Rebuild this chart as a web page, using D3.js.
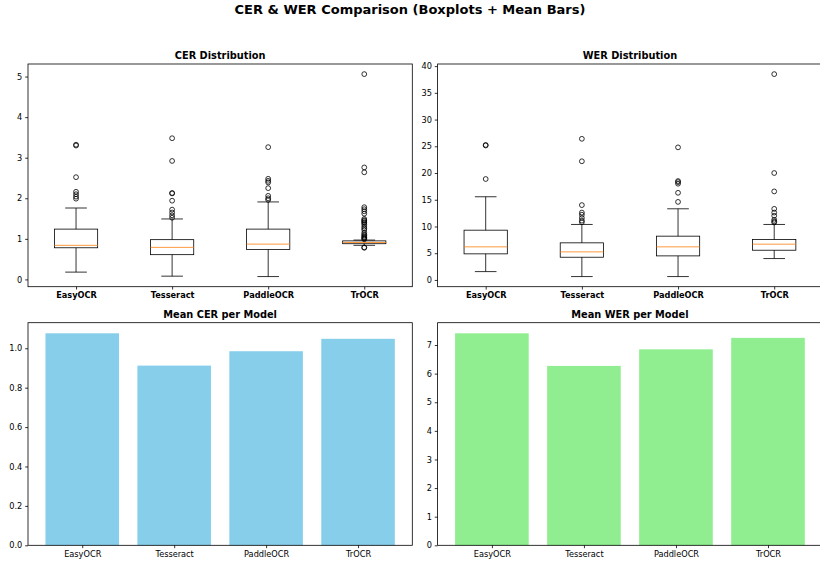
<!DOCTYPE html>
<html>
<head>
<meta charset="utf-8">
<script src="https://cdn.jsdelivr.net/npm/d3@7"></script>
<style>
  body { margin: 0; background: #fff; }
  svg { display: block; font-family: "DejaVu Sans", sans-serif; }
</style>
</head>
<body>
<div id="chart"></div>
<script>
const models = ["EasyOCR", "Tesseract", "PaddleOCR", "TrOCR"];

// CER boxplot summaries
const cerQ1 = [0.78, 0.61, 0.74, 0.88];
const cerMedian = [0.84, 0.79, 0.87, 0.91];
const cerQ3 = [1.24, 0.98, 1.24, 0.95];
const cerWhiskerLow = [0.18, 0.08, 0.07, 0.84];
const cerWhiskerHigh = [1.76, 1.49, 1.91, 0.97];
const cerOutliers = [
  [3.32, 3.30, 2.52, 2.16, 2.10, 2.04, 1.99],
  [3.48, 2.92, 2.13, 2.12, 1.94, 1.72, 1.65, 1.58, 1.52],
  [3.26, 2.48, 2.43, 2.39, 2.25, 2.06, 2.00, 1.96],
  [5.06, 2.76, 2.64, 1.78, 1.73, 1.68, 1.62, 1.49, 1.46, 1.44, 1.41, 1.39,
   1.35, 1.30, 1.26, 1.22, 1.15, 1.11, 1.08, 1.05, 1.03, 1.01, 0.99, 0.79, 0.78]
];

// WER boxplot summaries
const werQ1 = [4.88, 4.25, 4.50, 5.56];
const werMedian = [6.19, 5.25, 6.19, 6.69];
const werQ3 = [9.31, 6.94, 8.19, 7.56];
const werWhiskerLow = [1.56, 0.63, 0.63, 4.00];
const werWhiskerHigh = [15.56, 10.38, 13.31, 10.38];
const werOutliers = [
  [25.25, 25.15, 18.88],
  [26.4, 22.2, 14.0, 12.6, 12.2, 11.6, 11.1, 10.8],
  [24.8, 18.5, 18.3, 18.0, 16.3, 14.6],
  [38.5, 20.0, 16.56, 13.3, 12.6, 12.0, 11.25, 10.94, 10.75]
];

// Mean bars
const meanCer = [1.076, 0.912, 0.985, 1.048];
const meanWer = [7.41, 6.27, 6.85, 7.25];

const cerBoxTicks = [0, 1, 2, 3, 4, 5];
const werBoxTicks = [0, 5, 10, 15, 20, 25, 30, 35, 40];
const cerBarTicks = [0, 0.2, 0.4, 0.6, 0.8, 1.0];
const werBarTicks = [0, 1, 2, 3, 4, 5, 6, 7];

const width = 820;
const height = 565;
const fontSize = 8.2;
const tickLen = 2.85;

const svg = d3.create("svg")
  .attr("viewBox", [0, 0, width, height])
  .attr("width", width)
  .attr("height", height);

svg.append("text")
  .attr("x", 410)
  .attr("y", 14)
  .attr("text-anchor", "middle")
  .attr("font-size", 13)
  .attr("font-weight", "bold")
  .text("CER & WER Comparison (Boxplots + Mean Bars)");

function frame(g, box, title) {
  g.append("text")
    .attr("x", (box.x0 + box.x1) / 2)
    .attr("y", box.y0 - 4.9)
    .attr("text-anchor", "middle")
    .attr("font-size", 9.8)
    .attr("font-weight", "bold")
    .text(title);
}

function yAxis(g, y, box, ticks, fmt) {
  const ax = g.append("g")
    .attr("transform", `translate(${box.x0},0)`)
    .call(d3.axisLeft(y).tickValues(ticks).tickFormat(fmt)
      .tickSize(tickLen).tickPadding(2.85));
  ax.select(".domain").remove();
  ax.selectAll("line").attr("stroke", "#000").attr("stroke-width", 0.8);
  ax.selectAll("text").attr("font-size", fontSize).attr("fill", "#000")
    .attr("font-family", "DejaVu Sans");
}

function xAxis(g, x, box, values, bold) {
  const ax = g.append("g")
    .attr("transform", `translate(0,${box.y1})`)
    .call(d3.axisBottom(x).tickValues(values).tickFormat((d, i) => models[i])
      .tickSize(tickLen).tickPadding(2.85));
  ax.select(".domain").remove();
  ax.selectAll("line").attr("stroke", "#000").attr("stroke-width", 0.8);
  ax.selectAll("text").attr("font-size", fontSize).attr("fill", "#000")
    .attr("font-family", "DejaVu Sans")
    .attr("font-weight", bold ? "bold" : "normal");
}

function spines(g, box) {
  g.append("rect")
    .attr("x", box.x0)
    .attr("y", box.y0)
    .attr("width", box.x1 - box.x0)
    .attr("height", box.y1 - box.y0)
    .attr("fill", "none")
    .attr("stroke", "#000")
    .attr("stroke-width", 0.8);
}

function boxplot(box, title, q1, med, q3, lo, hi, outliers, ticks) {
  const g = svg.append("g");
  const all = lo.concat(hi, outliers.flat());
  const mn = d3.min(all), mx = d3.max(all);
  const pad = (mx - mn) * 0.05;
  const y = d3.scaleLinear().domain([mn - pad, mx + pad]).range([box.y1, box.y0]);
  const x = d3.scaleLinear().domain([0.5, 4.5]).range([box.x0, box.x1]);
  const pos = models.map((m, i) => i + 1);
  const hw = 0.225, cw = 0.1125;

  frame(g, box, title);

  const items = g.append("g").selectAll("g").data(pos).join("g");

  // whiskers
  items.append("line")
    .attr("x1", (p) => x(p)).attr("x2", (p) => x(p))
    .attr("y1", (p, i) => y(q3[i])).attr("y2", (p, i) => y(hi[i]));
  items.append("line")
    .attr("x1", (p) => x(p)).attr("x2", (p) => x(p))
    .attr("y1", (p, i) => y(q1[i])).attr("y2", (p, i) => y(lo[i]));
  // caps
  items.append("line")
    .attr("x1", (p) => x(p - cw)).attr("x2", (p) => x(p + cw))
    .attr("y1", (p, i) => y(hi[i])).attr("y2", (p, i) => y(hi[i]));
  items.append("line")
    .attr("x1", (p) => x(p - cw)).attr("x2", (p) => x(p + cw))
    .attr("y1", (p, i) => y(lo[i])).attr("y2", (p, i) => y(lo[i]));
  items.selectAll("line").attr("stroke", "#000").attr("stroke-width", 0.8);

  // box
  items.append("rect")
    .attr("x", (p) => x(p - hw))
    .attr("width", (p) => x(p + hw) - x(p - hw))
    .attr("y", (p, i) => y(q3[i]))
    .attr("height", (p, i) => y(q1[i]) - y(q3[i]))
    .attr("fill", "none")
    .attr("stroke", "#000")
    .attr("stroke-width", 0.8);

  // median
  items.append("line")
    .attr("x1", (p) => x(p - hw)).attr("x2", (p) => x(p + hw))
    .attr("y1", (p, i) => y(med[i])).attr("y2", (p, i) => y(med[i]))
    .attr("stroke", "#ff7f0e")
    .attr("stroke-width", 0.8);

  // fliers
  items.selectAll("circle")
    .data((p, i) => outliers[i].map((v) => ({ p, v })))
    .join("circle")
    .attr("cx", (d) => x(d.p))
    .attr("cy", (d) => y(d.v))
    .attr("r", 2.4)
    .attr("fill", "none")
    .attr("stroke", "#000")
    .attr("stroke-width", 0.8);

  yAxis(g, y, box, ticks, d3.format("d"));
  xAxis(g, x, box, pos, true);
  spines(g, box);
}

function barplot(box, title, values, color, ticks, fmt) {
  const g = svg.append("g");
  const y = d3.scaleLinear().domain([0, d3.max(values) * 1.05]).range([box.y1, box.y0]);
  const x = d3.scaleLinear().domain([-0.59, 3.59]).range([box.x0, box.x1]);
  const pos = models.map((m, i) => i);

  frame(g, box, title);

  g.append("g")
    .selectAll("rect")
    .data(values)
    .join("rect")
    .attr("x", (d, i) => x(i - 0.4))
    .attr("width", (d, i) => x(i + 0.4) - x(i - 0.4))
    .attr("y", (d) => y(d))
    .attr("height", (d) => y(0) - y(d))
    .attr("fill", color);

  yAxis(g, y, box, ticks, fmt);
  xAxis(g, x, box, pos, false);
  spines(g, box);
}

boxplot({ x0: 28, x1: 412.3, y0: 64, y1: 286.7 }, "CER Distribution",
  cerQ1, cerMedian, cerQ3, cerWhiskerLow, cerWhiskerHigh, cerOutliers, cerBoxTicks);
boxplot({ x0: 437.6, x1: 822.3, y0: 64, y1: 286.7 }, "WER Distribution",
  werQ1, werMedian, werQ3, werWhiskerLow, werWhiskerHigh, werOutliers, werBoxTicks);
barplot({ x0: 28, x1: 412.3, y0: 322.7, y1: 545.3 }, "Mean CER per Model",
  meanCer, "#87ceeb", cerBarTicks, d3.format(".1f"));
barplot({ x0: 437.6, x1: 822.3, y0: 322.7, y1: 545.3 }, "Mean WER per Model",
  meanWer, "#90ee90", werBarTicks, d3.format("d"));

d3.select("#chart").append(() => svg.node());
</script>
</body>
</html>
